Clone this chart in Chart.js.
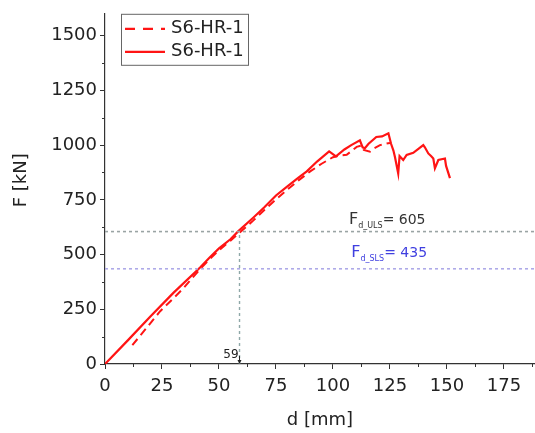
<!DOCTYPE html>
<html>
<head>
<meta charset="utf-8">
<script src="https://cdn.jsdelivr.net/npm/chart.js@4.4.1/dist/chart.umd.min.js"></script>
<style>
    html, body { margin: 0; padding: 0; background: #fff; }
    #wrap { width: 535px; height: 433px; }
</style>
</head>
<body>
<div id="wrap"><canvas id="myChart" width="535" height="433"></canvas></div>
<script>
// solid curve S6-HR-1 (d in mm, F in kN)
let solidD = [0, 10, 20, 30, 41.7, 46, 50, 55, 58.5, 65, 70, 75, 80, 85, 88.5, 93, 98.3, 101.3, 105, 108, 111.8, 113, 114, 115.5, 119, 121.5, 124.3, 125.5, 126.5, 127.2, 128.6, 129.2, 130.8, 132.3, 135.2, 139.6, 140.3, 141.8, 143, 144, 144.7, 146.2, 149.1, 149.6, 151.3];
let solidF = [0, 108, 218, 325, 441, 488, 528, 570, 607, 668, 717, 770, 812, 853, 880, 925, 971, 949, 980, 1000, 1022, 990, 986, 1005, 1037, 1040, 1054, 1005, 975, 945, 871, 950, 932, 955, 965, 1000, 990, 962, 950, 939, 894, 932, 939, 905, 849];

// dashed curve S6-HR-1
let dashD = [12, 18, 24.1, 30, 34.3, 38, 41.7, 46, 50, 55, 59, 65, 70, 75, 80, 85, 90, 95, 100, 103.5, 106, 110.4, 112.5, 113.5, 116.2, 118, 120.6, 123.5, 125];
let dashF = [86, 162, 240, 300, 345, 390, 433, 480, 520, 563, 600, 655, 705, 752, 797, 840, 880, 915, 945, 953, 956, 992, 998, 978, 970, 985, 1000, 1007, 1010];

let seriesNames = ['S6-HR-1', 'S6-HR-1'];

// design loads and marked displacement
let F_ULS = 605;
let F_SLS = 435;
let dMark = 59;

let xMin = 0, xMax = 188.6, xStep = 25;
let yMin = 0, yMax = 1600, yStep = 250;

let RED = '#ff1414';
let FONT = "'DejaVu Sans', sans-serif";

function toPoints(xs, ys) {
    let pts = [];
    for (let i = 0; i < xs.length; i++) {
        pts.push({ x: xs[i], y: ys[i] });
    }
    return pts;
}

// minor ticks, legend box and text labels
const extras = {
    id: 'extras',
    afterDraw(chart) {
        let ctx = chart.ctx;
        let xs = chart.scales.x;
        let ys = chart.scales.y;
        let area = chart.chartArea;
        ctx.save();

        // minor ticks
        ctx.strokeStyle = '#333';
        ctx.lineWidth = 1;
        ctx.beginPath();
        for (let v = xStep / 2; v < xMax; v += xStep) {
            let px = Math.round(xs.getPixelForValue(v)) + 0.5;
            ctx.moveTo(px, area.bottom);
            ctx.lineTo(px, area.bottom + 3);
        }
        for (let v = yStep / 2; v < yMax; v += yStep) {
            let py = Math.round(ys.getPixelForValue(v)) + 0.5;
            ctx.moveTo(area.left, py);
            ctx.lineTo(area.left - 3, py);
        }
        ctx.stroke();

        // legend
        let lx = area.left + 16, ly = area.top;
        ctx.strokeStyle = '#666';
        ctx.lineWidth = 1;
        ctx.strokeRect(lx + 0.5, ly + 0.5, 127, 51);
        let rows = [{ dash: [10, 8], y: ly + 15 }, { dash: [], y: ly + 38 }];
        for (let i = 0; i < rows.length; i++) {
            ctx.strokeStyle = RED;
            ctx.lineWidth = 2.2;
            ctx.setLineDash(rows[i].dash);
            ctx.beginPath();
            ctx.moveTo(lx + 4, rows[i].y);
            ctx.lineTo(lx + 44, rows[i].y);
            ctx.stroke();
            ctx.setLineDash([]);
            ctx.fillStyle = '#222';
            ctx.font = '18px ' + FONT;
            ctx.textBaseline = 'middle';
            ctx.textAlign = 'left';
            ctx.fillText(seriesNames[i], lx + 50, rows[i].y);
        }

        // F_d,ULS and F_d,SLS labels
        function loadLabel(sub, val, color, x, y) {
            ctx.fillStyle = color;
            ctx.textBaseline = 'alphabetic';
            ctx.textAlign = 'left';
            ctx.font = '16px ' + FONT;
            ctx.fillText('F', x, y);
            let w = ctx.measureText('F').width;
            ctx.font = '8px ' + FONT;
            ctx.fillText(sub, x + w, y + 4);
            let w2 = ctx.measureText(sub).width;
            ctx.font = '14px ' + FONT;
            ctx.fillText('= ' + val, x + w + w2, y);
        }
        loadLabel('d_ULS', F_ULS, '#333', xs.getPixelForValue(107), ys.getPixelForValue(F_ULS + 35));
        loadLabel('d_SLS', F_SLS, '#4040e0', xs.getPixelForValue(108), ys.getPixelForValue(F_SLS + 53));

        // 59 marker
        let mx = xs.getPixelForValue(dMark);
        ctx.fillStyle = '#222';
        ctx.font = '12px ' + FONT;
        ctx.textAlign = 'right';
        ctx.textBaseline = 'middle';
        ctx.fillText(String(dMark), mx - 1, area.bottom - 9);
        ctx.strokeStyle = '#222';
        ctx.lineWidth = 1;
        ctx.beginPath();
        ctx.moveTo(mx, area.bottom - 8);
        ctx.lineTo(mx, area.bottom - 1);
        ctx.stroke();
        ctx.beginPath();
        ctx.moveTo(mx - 2, area.bottom - 4);
        ctx.lineTo(mx + 2, area.bottom - 4);
        ctx.lineTo(mx, area.bottom);
        ctx.closePath();
        ctx.fill();

        ctx.restore();
    }
};

const config = {
    type: 'scatter',
    data: {
        datasets: [
            {
                label: 'ULS',
                data: toPoints([xMin, xMax], [F_ULS, F_ULS]),
                borderColor: '#9aa4a4',
                borderWidth: 1.6,
                borderDash: [3, 3],
                showLine: true,
                pointRadius: 0
            },
            {
                label: 'SLS',
                data: toPoints([xMin, xMax], [F_SLS, F_SLS]),
                borderColor: '#aeaae8',
                borderWidth: 1.6,
                borderDash: [3, 3],
                showLine: true,
                pointRadius: 0
            },
            {
                label: 'mark',
                data: toPoints([dMark, dMark], [0, F_ULS]),
                borderColor: '#8fa8a8',
                borderWidth: 1.4,
                borderDash: [3, 3],
                showLine: true,
                pointRadius: 0
            },
            {
                label: seriesNames[0],
                data: toPoints(dashD, dashF),
                borderColor: RED,
                borderWidth: 2,
                borderDash: [8, 5],
                showLine: true,
                pointRadius: 0,
                tension: 0
            },
            {
                label: seriesNames[1],
                data: toPoints(solidD, solidF),
                borderColor: RED,
                borderWidth: 2.2,
                showLine: true,
                pointRadius: 0,
                tension: 0
            }
        ]
    },
    options: {
        responsive: false,
        animation: false,
        devicePixelRatio: 1,
        layout: { padding: { top: 11, right: 0, left: 0, bottom: 0 } },
        plugins: {
            legend: { display: false },
            tooltip: { enabled: false }
        },
        scales: {
            x: {
                type: 'linear',
                min: xMin,
                max: xMax,
                ticks: {
                    stepSize: xStep,
                    includeBounds: false,
                    color: '#222',
                    font: { family: FONT, size: 18 },
                    padding: 7,
                    maxRotation: 0,
                    callback: (v) => String(v)
                },
                grid: { display: true, drawOnChartArea: false, tickLength: 5, color: '#333' },
                border: { color: '#333', width: 1.2 },
                title: {
                    display: true,
                    text: 'd [mm]',
                    color: '#222',
                    font: { family: FONT, size: 18 },
                    padding: { top: 0, bottom: 2 }
                },
                afterFit(scale) { scale.height = 69; }
            },
            y: {
                type: 'linear',
                min: yMin,
                max: yMax,
                ticks: {
                    stepSize: yStep,
                    includeBounds: false,
                    color: '#222',
                    font: { family: FONT, size: 18 },
                    padding: 3,
                    callback: (v) => String(v)
                },
                grid: { display: true, drawOnChartArea: false, tickLength: 5, color: '#333' },
                border: { color: '#333', width: 1.2 },
                title: {
                    display: true,
                    text: '   F [kN]',
                    color: '#222',
                    font: { family: FONT, size: 18 },
                    padding: { top: 11, bottom: 0 }
                },
                afterFit(scale) { scale.width = 105; }
            }
        }
    },
    plugins: [extras]
};

let myChart;

function init() {
    myChart = new Chart(document.getElementById('myChart'), config);
}

init();
</script>
</body>
</html>
